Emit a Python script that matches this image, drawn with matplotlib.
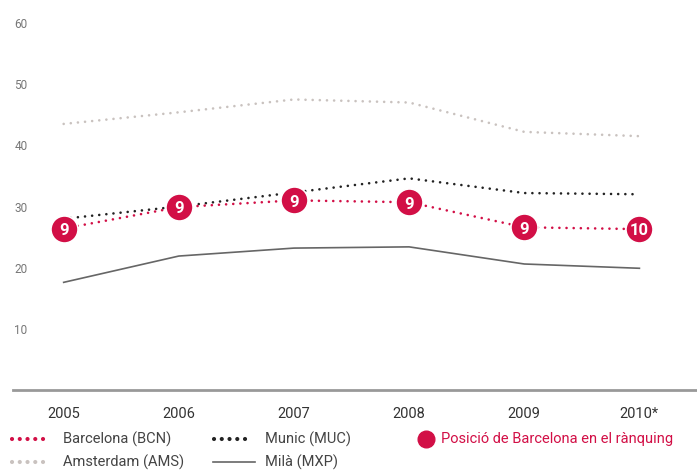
import matplotlib.pyplot as plt
from matplotlib.lines import Line2D

plt.rcParams['font.family'] = ['Roboto', 'DejaVu Sans']

# Dades (milions de passatgers, llegits del gràfic)
anys = ["2005", "2006", "2007", "2008", "2009", "2010*"]
barcelona = [26.4, 29.9, 31.0, 30.7, 26.6, 26.3]
munic = [28.0, 30.0, 32.3, 34.6, 32.2, 32.0]
amsterdam = [43.5, 45.4, 47.5, 47.0, 42.2, 41.5]
mila = [17.6, 21.9, 23.2, 23.4, 20.6, 19.9]
posicio = [9, 9, 9, 9, 9, 10]

vermell = "#d20f46"
gris_clar = "#c9c2bf"
negre = "#222222"
gris_fosc = "#666666"

punts = (0, (0.01, 2.7))

fig = plt.figure(figsize=(6.97, 4.70), dpi=100)
ax = fig.add_axes([13 / 697, 1 - 390 / 470, 1 - 13 / 697, (390 - 23) / 470])

x = list(range(len(anys)))

ax.plot(x, amsterdam, color=gris_clar, lw=1.9, ls=punts, dash_capstyle="round")
ax.plot(x, munic, color=negre, lw=1.9, ls=punts, dash_capstyle="round")
ax.plot(x, mila, color=gris_fosc, lw=1.2)
ax.plot(x, barcelona, color=vermell, lw=1.9, ls=punts, dash_capstyle="round")
ax.scatter(x, barcelona, s=380, color=vermell, edgecolor="white", linewidth=1.2, zorder=5)
for xi, yi, p in zip(x, barcelona, posicio):
    ax.text(xi, yi - 0.3, str(p), color="white", fontsize=12, fontweight="bold",
            ha="center", va="center", zorder=6)

ax.set_xlim(-0.44, 5.5)
ax.set_ylim(0, 60)
ax.set_xticks(x)
ax.set_xticklabels(anys, fontsize=10.5, color="#333333")
ax.set_yticks([10, 20, 30, 40, 50, 60])
ax.set_yticklabels(["10", "20", "30", "40", "50", "60"], fontsize=8.5, color="#777777")
ax.tick_params(axis="x", length=0, pad=12)
ax.tick_params(axis="y", length=0, direction="in", pad=-1)
for lbl in ax.get_yticklabels():
    lbl.set_horizontalalignment("left")
for s in ["top", "right", "left"]:
    ax.spines[s].set_visible(False)
ax.spines["bottom"].set_color("#999999")
ax.spines["bottom"].set_linewidth(2)

# Llegenda
def fx(px):
    return px / 697

def fy(py):
    return 1 - py / 470

def mostra(x0, x1, y, color, amb_punts):
    if amb_punts:
        fig.add_artist(Line2D([fx(x0), fx(x1)], [fy(y), fy(y)], color=color, lw=3,
                              ls=(0, (0.01, 1.85)), dash_capstyle="round",
                              transform=fig.transFigure))
    else:
        fig.add_artist(Line2D([fx(x0), fx(x1)], [fy(y), fy(y)], color=color, lw=1.2,
                              transform=fig.transFigure))

mostra(12, 44, 439, vermell, True)
fig.text(fx(63), fy(439), "Barcelona (BCN)", fontsize=10.5, color="#444444", va="center")
mostra(214, 252, 439, negre, True)
fig.text(fx(265), fy(439), "Munic (MUC)", fontsize=10.5, color="#444444", va="center")
fig.add_artist(Line2D([fx(426)], [fy(439)], marker="o", markersize=12, color=vermell,
                      transform=fig.transFigure))
fig.text(fx(441), fy(439), "Posició de Barcelona en el rànquing", fontsize=10.5,
         color=vermell, va="center")
mostra(12, 44, 462, gris_clar, True)
fig.text(fx(63), fy(462), "Amsterdam (AMS)", fontsize=10.5, color="#444444", va="center")
mostra(213, 255, 462, gris_fosc, False)
fig.text(fx(265), fy(462), "Milà (MXP)", fontsize=10.5, color="#444444", va="center")

fig.savefig("out.png", dpi=100)
